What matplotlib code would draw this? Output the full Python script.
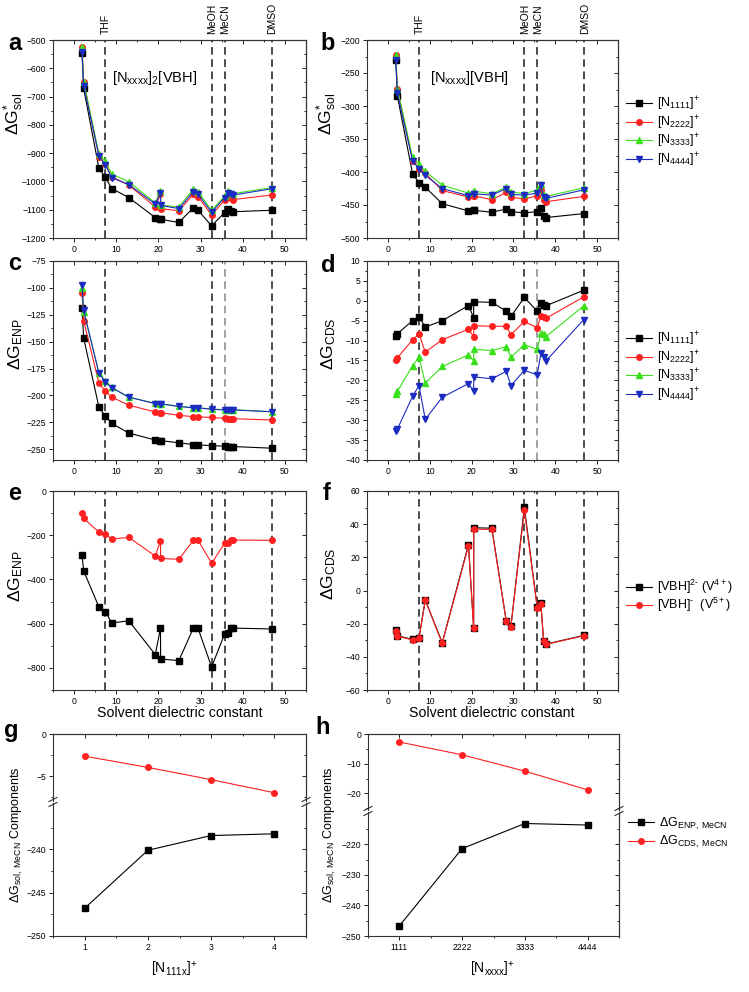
import numpy as np
import matplotlib
matplotlib.use("Agg")
import matplotlib.pyplot as plt
from matplotlib.ticker import MultipleLocator, FixedLocator
from matplotlib.lines import Line2D
import matplotlib.transforms as mtrans

plt.rcParams['font.family'] = ['Liberation Sans', 'DejaVu Sans']
plt.rcParams['mathtext.fontset'] = 'custom'
plt.rcParams['mathtext.rm'] = 'Liberation Sans'
plt.rcParams['mathtext.it'] = 'Liberation Sans:italic'
plt.rcParams['mathtext.bf'] = 'Liberation Sans:bold'
plt.rcParams['mathtext.default'] = 'regular'

# ---- data -------------------------------------------------------------
# solvent dielectric constants (x axis of panels a-f)
eps = [1.88, 2.27, 5.9, 7.43, 8.93, 12.98, 19.26, 20.49, 20.52, 24.85,
       28.29, 29.4, 32.61, 35.69, 36.56, 37.22, 37.78, 46.83]
solv_x = [7.43, 32.61, 35.69, 46.83]
solv_names = ['THF', 'MeOH', 'MeCN', 'DMSO']

# a: dG*sol [Nxxxx]2[VBH]
a_n1 = [-546, -671, -954, -986, -1025, -1057, -1128, -1134, -1134, -1145,
        -1093, -1102, -1157, -1110, -1099, -1104, -1107, -1102]
a_n2 = [-526, -647, -912, -939, -983, -1013, -1090, -1045, -1096, -1104,
        -1045, -1054, -1119, -1066, -1052, -1060, -1064, -1048]
a_n3 = [-526, -647, -903, -929, -974, -1001, -1076, -1033, -1084, -1090,
        -1027, -1037, -1102, -1052, -1033, -1040, -1043, -1022]
a_n4 = [-543, -662, -910, -942, -987, -1011, -1080, -1040, -1085, -1096,
        -1036, -1045, -1109, -1057, -1040, -1045, -1048, -1026]

# b: dG*sol [Nxxxx][VBH]
b_n1 = [-231, -285, -403, -416, -423, -448, -459, -458, -458, -461,
        -456, -460, -462, -460, -454, -467, -469, -463]
b_n2 = [-223, -274, -383, -395, -402, -428, -438, -436, -436, -442,
        -431, -438, -441, -436, -428, -443, -445, -437]
b_n3 = [-223, -274, -378, -388, -399, -420, -432, -429, -429, -433,
        -423, -430, -433, -427, -418, -435, -437, -424]
b_n4 = [-230, -281, -383, -395, -405, -425, -436, -433, -433, -435,
        -425, -434, -435, -432, -420, -438, -440, -427]

# c: dG_ENP
c_n1 = [-118.8, -146.6, -211, -219.4, -226, -235, -241.4, -242, -242, -244,
        -245.7, -246, -246.6, -247.2, -247.5, -247.5, -247.5, -249]
c_n2 = [-105, -130.5, -188.6, -196, -201.5, -209, -215.4, -216, -216, -218.5,
        -219.7, -220, -220.4, -221.3, -221.6, -221.6, -221.6, -222.8]
c_n3 = [-99.7, -122, -179, -187, -192.6, -201.5, -207.4, -207.7, -207.7, -210,
        -211.4, -211.4, -212.6, -213.3, -213.3, -213.3, -213.3, -215]
c_n4 = [-97.5, -121, -179.5, -187.3, -192.8, -201.6, -207.6, -207.9, -207.9,
        -210.2, -211.6, -211.6, -212.8, -213.5, -213.5, -213.5, -213.5, -215.2]

# d: dG_CDS
d_n1 = [-8.75, -8.25, -5, -4, -6.6, -5, -1.2, -4.2, -0.25, -0.4,
        -2.6, -3.9, 0.83, -2.6, -0.6, -1.0, -1.25, 2.67]
d_n2 = [-15, -14.3, -9.8, -8.3, -12.9, -9.8, -7.1, -9, -6.25, -6.4,
        -6.4, -8.5, -5.2, -6.8, -3.8, -4, -4.4, 1]
d_n3 = [-23.3, -22.75, -16.3, -14.2, -20.7, -16.5, -13.6, -15.1, -12.2, -12.5,
        -11.5, -14.2, -11, -12.2, -8.2, -8.25, -9, -1.25]
d_n4 = [-32.75, -32.2, -24, -21.3, -29.8, -24.25, -20.8, -22.7, -19.1, -19.6,
        -17.7, -21.3, -17.5, -18.6, -13.2, -14, -15.1, -4.7]

# e: dG_ENP of the anion
e_v4 = [-290, -361, -525, -546, -597, -587, -740, -620, -760, -767,
        -620, -621, -796, -647, -641, -620, -620, -624]
e_v5 = [-98, -124, -186, -195, -217, -210, -294, -225, -305, -309,
        -223, -223, -326, -237, -234, -223, -222, -223]

# f: dG_CDS of the anion
f_v4 = [-24, -27.3, -29.5, -28.5, -5.7, -31.5, 27.7, -22.6, 37.8, 37.6,
        -18.4, -21.6, 50.1, -10.1, -7.7, -30.3, -32.3, -27.1]
f_v5 = [-24.3, -27.6, -29.8, -28.8, -5.9, -31.8, 26.9, -22.8, 37.0, 36.8,
        -18.6, -21.8, 48.5, -10.3, -7.9, -30.5, -32.5, -27.3]

# g, h: MeCN components
g_x = [1, 2, 3, 4]
g_labels = ['1', '2', '3', '4']
g_enp = [-246.8, -240.1, -238.4, -238.2]
g_cds = [-2.63, -3.97, -5.42, -6.98]
h_labels = ['1111', '2222', '3333', '4444']
h_enp = [-246.7, -221.4, -213.2, -213.7]
h_cds = [-2.7, -7.0, -12.5, -18.8]

cat_labels = ['[N$_{1111}$]$^{+}$', '[N$_{2222}$]$^{+}$',
              '[N$_{3333}$]$^{+}$', '[N$_{4444}$]$^{+}$']
cat_colors = ['#000000', '#ff2020', '#3ae01a', '#1c2cc0']
cat_markers = ['s', 'o', '^', 'v']

# ---- figure -------------------------------------------------------------
W, H = 749, 992
fig = plt.figure(figsize=(W / 100, H / 100), dpi=100)


def box(x0, y0, x1, y1):
    return [x0 / W, 1 - y1 / H, (x1 - x0) / W, (y1 - y0) / H]


TICK = 6.2


def loc(v):
    if isinstance(v, (list, tuple)):
        return FixedLocator(v)
    return MultipleLocator(v)


def dress(ax, ymaj, ymin, xmaj=None, xmin=None, top=True, bottom=True):
    ax.tick_params(which='both', direction='out', labelsize=TICK, width=0.6,
                   top=False, right=False, pad=2)
    ax.tick_params(which='major', length=3)
    ax.tick_params(which='minor', length=1.6)
    ax.yaxis.set_major_locator(loc(ymaj))
    ax.yaxis.set_minor_locator(loc(ymin))
    if xmaj:
        ax.xaxis.set_major_locator(MultipleLocator(xmaj))
        ax.xaxis.set_minor_locator(MultipleLocator(xmin))
    for s in ax.spines.values():
        s.set_linewidth(0.8)
        s.set_color('#333333')
    r = ax.secondary_yaxis('right')
    r.yaxis.set_major_locator(loc(ymaj))
    r.yaxis.set_minor_locator(loc(ymin))
    r.tick_params(which='both', direction='in', labelright=False, width=0.6)
    r.tick_params(which='major', length=3)
    r.tick_params(which='minor', length=1.6)
    r.spines['right'].set_linewidth(0.8)
    r.spines['right'].set_color('#333333')
    if top:
        t = ax.secondary_xaxis('top')
        if xmaj:
            t.xaxis.set_major_locator(MultipleLocator(xmaj))
            t.xaxis.set_minor_locator(MultipleLocator(xmin))
        else:
            t.set_xticks(ax.get_xticks())
            t.xaxis.set_minor_locator(MultipleLocator(0.5))
        t.tick_params(which='both', direction='in', labeltop=False, width=0.6)
        t.tick_params(which='major', length=3)
        t.tick_params(which='minor', length=1.6)
        t.spines['top'].set_linewidth(0.8)
        t.spines['top'].set_color('#333333')
    if not bottom:
        ax.tick_params(axis='x', which='both', bottom=False, labelbottom=False)


def solvent_lines(ax, gray_mecn=False):
    for xv, nm in zip(solv_x, solv_names):
        col = '#888888' if (gray_mecn and nm == 'MeCN') else '#1a1a1a'
        ax.axvline(xv, color=col, ls=(0, (5, 3)), lw=1.1, zorder=1)


def eps_axes(rect, ylim, ymaj, ymin):
    ax = fig.add_axes(rect)
    ax.set_xlim(-5, 55)
    ax.set_ylim(*ylim)
    dress(ax, ymaj, ymin, 10, 5)
    return ax


def plot_cats(ax, series):
    for ys, c, m in zip(series, cat_colors, cat_markers):
        ax.plot(eps, ys, color=c, marker=m, ms=4, lw=0.8, mec=c, zorder=3)


LX, RX = (53, 306), (367, 618)

# a, b
ax_a = eps_axes(box(LX[0], 40, LX[1], 238), (-1200, -500), 100, 50)
ax_b = eps_axes(box(RX[0], 40, RX[1], 238), (-500, -200), 50, 25)
for ax in (ax_a, ax_b):
    solvent_lines(ax)
    tr = mtrans.blended_transform_factory(ax.transData, ax.transAxes)
    for xv, nm in zip(solv_x, solv_names):
        ax.text(xv + 0.2, 1.03, nm, transform=tr, rotation=90, ha='center',
                va='bottom', fontsize=7.5)
plot_cats(ax_a, [a_n1, a_n2, a_n3, a_n4])
plot_cats(ax_b, [b_n1, b_n2, b_n3, b_n4])
ax_a.text(0.40, 0.81, '[N$_{xxxx}$]$_2$[VBH]', transform=ax_a.transAxes,
          ha='center', va='center', fontsize=10.5)
ax_b.text(0.41, 0.81, '[N$_{xxxx}$][VBH]', transform=ax_b.transAxes,
          ha='center', va='center', fontsize=10.5)

# c, d
ax_c = eps_axes(box(LX[0], 261, LX[1], 460), (-260, -75), 25, 12.5)
ax_d = eps_axes(box(RX[0], 261, RX[1], 460), (-40, 10), 5, 2.5)
for ax in (ax_c, ax_d):
    solvent_lines(ax, gray_mecn=True)
plot_cats(ax_c, [c_n1, c_n2, c_n3, c_n4])
plot_cats(ax_d, [d_n1, d_n2, d_n3, d_n4])

# e, f
ax_e = eps_axes(box(LX[0], 491, LX[1], 690), (-900, 0), 200, 100)
ax_f = eps_axes(box(RX[0], 491, RX[1], 690), (-60, 60), 20, 10)
for ax in (ax_e, ax_f):
    solvent_lines(ax)
for ax, v4, v5 in ((ax_e, e_v4, e_v5), (ax_f, f_v4, f_v5)):
    ax.plot(eps, v4, color='k', marker='s', ms=4, lw=0.8, zorder=3)
    ax.plot(eps, v5, color='#ff2020', marker='o', ms=4, lw=0.8, zorder=4)


# g, h (broken y axes)
def broken(x0, x1, ybrk, top_lim, bot_lim, tmaj, tmin, bmaj, bmin, ticklabels,
           enp, cds):
    gap = 3
    at = fig.add_axes(box(x0, 734, x1, ybrk - gap / 2))
    ab = fig.add_axes(box(x0, ybrk + gap / 2, x1, 936))
    for ax in (at, ab):
        ax.set_xlim(0.5, 4.5)
        ax.set_xticks(g_x)
    at.set_ylim(*top_lim)
    ab.set_ylim(*bot_lim)
    dress(at, tmaj, tmin, top=True, bottom=False)
    dress(ab, bmaj, bmin, top=False)
    ab.xaxis.set_minor_locator(MultipleLocator(0.5))
    ab.set_xticklabels(ticklabels)
    at.spines['bottom'].set_visible(False)
    ab.spines['top'].set_visible(False)
    at.plot(g_x, cds, color='#ff2020', marker='o', ms=4, lw=0.8)
    ab.plot(g_x, enp, color='k', marker='s', ms=4, lw=0.8)
    # break marks
    for xp in (x0, x1):
        for dy in (-gap / 2 - 1, gap / 2 + 1):
            fig.add_artist(Line2D([(xp - 4) / W, (xp + 4) / W],
                                  [1 - (ybrk + dy + 2) / H, 1 - (ybrk + dy - 2) / H],
                                  color='#333333', lw=0.8))
    return at, ab


g_t, g_b = broken(LX[0], LX[1], 802, (-7.9, 0), (-250, -234.7),
                  [0, -5], [-2.5, -7.5], [-240, -245, -250], [-237.5, -242.5, -247.5],
                  g_labels, g_enp, g_cds)
h_t, h_b = broken(368, 619, 811, (-25.4, 0), (-250, -209.6),
                  [0, -10, -20], [-5, -15, -25], [-220, -230, -240, -250],
                  [-215, -225, -235, -245], h_labels, h_enp, h_cds)

# ---- labels -------------------------------------------------------------
ylab = dict(rotation=90, ha='center', va='center', fontsize=12.5)
fig.text(14 / W, 1 - 114 / H, 'ΔG$^{*}_{sol}$', **ylab)
fig.text(327 / W, 1 - 114 / H, 'ΔG$^{*}_{sol}$', **ylab)
fig.text(16 / W, 1 - 344 / H, 'ΔG$_{ENP}$', **ylab)
fig.text(329 / W, 1 - 344 / H, 'ΔG$_{CDS}$', **ylab)
fig.text(16 / W, 1 - 576 / H, 'ΔG$_{ENP}$', **ylab)
fig.text(329 / W, 1 - 574 / H, 'ΔG$_{CDS}$', **ylab)
for xp in (17, 330):
    fig.text(xp / W, 1 - 835 / H, 'ΔG$_{sol,\\ MeCN}$ Components', rotation=90,
             ha='center', va='center', fontsize=9)

for xc in (180, 492):
    fig.text(xc / W, 1 - 713 / H, 'Solvent dielectric constant', ha='center',
             va='center', fontsize=10.2)
fig.text(174 / W, 1 - 970 / H, '[N$_{111x}$]$^{+}$', ha='center', va='center',
         fontsize=10)
fig.text(493 / W, 1 - 970 / H, '[N$_{xxxx}$]$^{+}$', ha='center', va='center',
         fontsize=10)

for txt, xp, yp in (('a', 15, 43), ('b', 328, 43), ('c', 15, 263), ('d', 328, 265),
                    ('e', 15, 493), ('f', 327, 493), ('g', 11, 730), ('h', 323, 727)):
    fig.text(xp / W, 1 - yp / H, txt, fontsize=17, fontweight='bold',
             ha='center', va='center')


# ---- legends ------------------------------------------------------------
def cat_handles():
    return [Line2D([], [], color=c, marker=m, ms=4, lw=0.8)
            for c, m in zip(cat_colors, cat_markers)]


leg = dict(loc='center left', bbox_transform=fig.transFigure, frameon=False,
           borderpad=0, borderaxespad=0, handlelength=2.1, handletextpad=0.4,
           fontsize=9)
fig.legend(cat_handles(), cat_labels, bbox_to_anchor=(626 / W, 1 - 132 / H),
           labelspacing=0.05, **leg)
fig.legend(cat_handles(), cat_labels, bbox_to_anchor=(626 / W, 1 - 367 / H),
           labelspacing=0.05, **leg)
fig.legend([Line2D([], [], color='k', marker='s', ms=4, lw=0.8),
            Line2D([], [], color='#ff2020', marker='o', ms=4, lw=0.8)],
           ['[VBH]$^{2\\text{-}}$ (V$^{4+}$)', '[VBH]$^{\\text{-}}$  (V$^{5+}$)'],
           bbox_to_anchor=(626 / W, 1 - 596 / H), labelspacing=0.0, **leg)
fig.legend([Line2D([], [], color='k', marker='s', ms=4, lw=0.8),
            Line2D([], [], color='#ff2020', marker='o', ms=4, lw=0.8)],
           ['ΔG$_{ENP,\\ MeCN}$', 'ΔG$_{CDS,\\ MeCN}$'],
           bbox_to_anchor=(628 / W, 1 - 833 / H), labelspacing=0.2, **leg)

fig.savefig('out.png', dpi=100)
